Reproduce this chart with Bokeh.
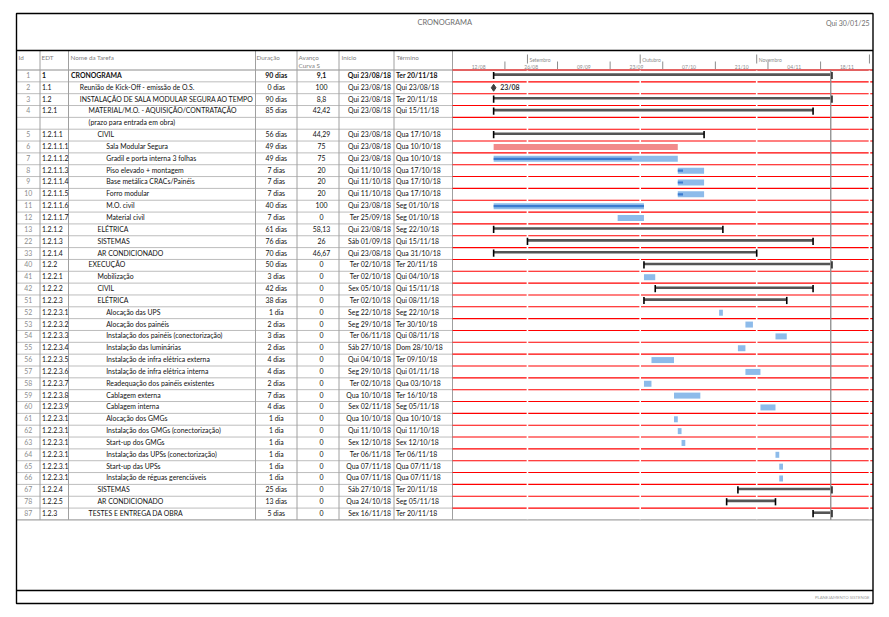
import pandas as pd
from bokeh.plotting import figure
from bokeh.models import ColumnDataSource, Range1d
from bokeh.core.properties import value, field
from bokeh.embed import file_html
from bokeh.resources import INLINE

# ---------------- data ----------------
task_ids = [1, 2, 3, 4, 5, 6, 7, 8, 9, 10, 11, 12, 13, 22, 33, 40, 41, 42, 51,
            52, 53, 54, 55, 56, 57, 58, 59, 60, 61, 62, 63, 64, 65, 66, 67, 78, 87]
edt = ["1", "1.1", "1.2", "1.2.1", "1.2.1.1", "1.2.1.1.1", "1.2.1.1.2", "1.2.1.1.3",
       "1.2.1.1.4", "1.2.1.1.5", "1.2.1.1.6", "1.2.1.1.7", "1.2.1.2", "1.2.1.3", "1.2.1.4",
       "1.2.2", "1.2.2.1", "1.2.2.2", "1.2.2.3", "1.2.2.3.1", "1.2.2.3.2", "1.2.2.3.3",
       "1.2.2.3.4", "1.2.2.3.5", "1.2.2.3.6", "1.2.2.3.7", "1.2.2.3.8", "1.2.2.3.9",
       "1.2.2.3.1", "1.2.2.3.1", "1.2.2.3.1", "1.2.2.3.1", "1.2.2.3.1", "1.2.2.3.1",
       "1.2.2.4", "1.2.2.5", "1.2.3"]
names = ["CRONOGRAMA",
         "Reunião de Kick-Off - emissão de O.S.",
         "INSTALAÇÃO DE SALA MODULAR SEGURA AO TEMPO",
         "MATERIAL/M.O. - AQUISIÇÃO/CONTRATAÇÃO\n(prazo para entrada em obra)",
         "CIVIL",
         "Sala Modular Segura",
         "Gradil e porta interna 3 folhas",
         "Piso elevado + montagem",
         "Base metálica CRACs/Painéis",
         "Forro modular",
         "M.O. civil",
         "Material civil",
         "ELÉTRICA",
         "SISTEMAS",
         "AR CONDICIONADO",
         "EXECUÇÃO",
         "Mobilização",
         "CIVIL",
         "ELÉTRICA",
         "Alocação das UPS",
         "Alocação dos painéis",
         "Instalação dos painéis (conectorização)",
         "Instalação das luminárias",
         "Instalação de infra elétrica externa",
         "Instalação de infra elétrica interna",
         "Readequação dos painéis existentes",
         "Cablagem externa",
         "Cablagem interna",
         "Alocação dos GMGs",
         "Instalação dos GMGs (conectorização)",
         "Start-up dos GMGs",
         "Instalação das UPSs (conectorização)",
         "Start-up das UPSs",
         "Instalação de réguas gerenciáveis",
         "SISTEMAS",
         "AR CONDICIONADO",
         "TESTES E ENTREGA DA OBRA"]
duracao = ["90 dias", "0 dias", "90 dias", "85 dias", "56 dias", "49 dias", "49 dias",
           "7 dias", "7 dias", "7 dias", "40 dias", "7 dias", "61 dias", "76 dias",
           "70 dias", "50 dias", "3 dias", "42 dias", "38 dias", "1 dia", "2 dias",
           "3 dias", "2 dias", "4 dias", "4 dias", "2 dias", "7 dias", "4 dias",
           "1 dia", "1 dia", "1 dia", "1 dia", "1 dia", "1 dia", "25 dias", "13 dias",
           "5 dias"]
avanco = ["9,1", "100", "8,8", "42,42", "44,29", "75", "75", "20", "20", "20", "100",
          "0", "58,13", "26", "46,67", "0", "0", "0", "0", "0", "0", "0", "0", "0",
          "0", "0", "0", "0", "0", "0", "0", "0", "0", "0", "0", "0", "0"]
inicio = ["Qui 23/08/18", "Qui 23/08/18", "Qui 23/08/18", "Qui 23/08/18", "Qui 23/08/18",
          "Qui 23/08/18", "Qui 23/08/18", "Qui 11/10/18", "Qui 11/10/18", "Qui 11/10/18",
          "Qui 23/08/18", "Ter 25/09/18", "Qui 23/08/18", "Sáb 01/09/18", "Qui 23/08/18",
          "Ter 02/10/18", "Ter 02/10/18", "Sex 05/10/18", "Ter 02/10/18", "Seg 22/10/18",
          "Seg 29/10/18", "Ter 06/11/18", "Sáb 27/10/18", "Qui 04/10/18", "Seg 29/10/18",
          "Ter 02/10/18", "Qua 10/10/18", "Sex 02/11/18", "Qua 10/10/18", "Qui 11/10/18",
          "Sex 12/10/18", "Ter 06/11/18", "Qua 07/11/18", "Qua 07/11/18", "Sáb 27/10/18",
          "Qua 24/10/18", "Sex 16/11/18"]
termino = ["Ter 20/11/18", "Qui 23/08/18", "Ter 20/11/18", "Qui 15/11/18", "Qua 17/10/18",
           "Qua 10/10/18", "Qua 10/10/18", "Qua 17/10/18", "Qua 17/10/18", "Qua 17/10/18",
           "Seg 01/10/18", "Seg 01/10/18", "Seg 22/10/18", "Qui 15/11/18", "Qua 31/10/18",
           "Ter 20/11/18", "Qui 04/10/18", "Qui 15/11/18", "Qui 08/11/18", "Seg 22/10/18",
           "Ter 30/10/18", "Qui 08/11/18", "Dom 28/10/18", "Ter 09/10/18", "Qui 01/11/18",
           "Qua 03/10/18", "Ter 16/10/18", "Seg 05/11/18", "Qua 10/10/18", "Qui 11/10/18",
           "Sex 12/10/18", "Ter 06/11/18", "Qua 07/11/18", "Qua 07/11/18", "Ter 20/11/18",
           "Seg 05/11/18", "Ter 20/11/18"]
kinds = (["summary", "milestone", "summary", "summary", "summary", "critical", "task",
          "task", "task", "task", "task", "task", "summary", "summary", "summary",
          "summary", "task", "summary", "summary"] + ["task"] * 15 +
         ["summary", "summary", "summary"])

col_headers = ["Id", "EDT", "Nome da Tarefa", "Duração", "Avanço\nCurva S", "Início", "Término"]
month_labels = ["Setembro", "Outubro", "Novembro"]
title = "CRONOGRAMA"
print_date = "Qui 30/01/25"
footer = "PLANEJAMENTO SISTENGE"
timescale_start = "2018-08-12"
timescale_end = "2018-11-18"
status_line = "2018-11-20 17:00"

# ---------------- layout constants (pixels) ----------------
W, H = 880, 608
FL, FR, FT, FB = 16, 872.5, 13, 603      # outer frame
HDR_Y = 50                                # header divider
FOOT_Y = 590
ROW_TOP = 69.5
RH = 11.84
X0, PXD = 451.8, 3.758                    # gantt: x of timescale start, px per day
COLS = [FL, 39.5, 68, 255, 296.5, 338.5, 393.5, 452]
FONT = value("Lato")

REF = pd.Timestamp(timescale_start)
t_start = (REF + pd.Timedelta(days=(0 - X0) / PXD)).to_pydatetime()
t_end = (REF + pd.Timedelta(days=(W - X0) / PXD)).to_pydatetime()

p = figure(width=W, height=H, output_backend="svg", toolbar_location=None,
           x_range=Range1d(0, W), y_range=Range1d(H, 0),
           x_axis_location=None, y_axis_location=None, min_border=0)
p.outline_line_color = None
p.background_fill_color = "white"
p.border_fill_color = "white"
p.xgrid.visible = False
p.ygrid.visible = False
p.extra_x_ranges = {"t": Range1d(t_start, t_end)}
p.extra_y_ranges = {"r": Range1d((H - ROW_TOP) / RH, (0 - ROW_TOP) / RH)}

# ---------------- derived table rows ----------------
starts = pd.to_datetime([s.split()[1] for s in inicio], format="%d/%m/%y")
finishes = pd.to_datetime([s.split()[1] for s in termino], format="%d/%m/%y") + pd.Timedelta(days=1)
pct = [float(a.replace(",", ".")) for a in avanco]

units = []
u = 0
for n in names:
    units.append(u)
    u += len(n.split("\n"))
total_units = u
row_c = [v + 0.5 for v in units]
styles = ["bold" if i == 0 else "normal" for i in range(len(names))]

# ---------------- table grid ----------------
p.segment(x0=[FL] * (total_units - 1), x1=[COLS[-1]] * (total_units - 1),
          y0=list(range(1, total_units)), y1=list(range(1, total_units)),
          y_range_name="r", line_color="#bdbdbd", line_width=1)
p.segment(x0=[FL, FL], x1=[FR, FR], y0=[0, total_units], y1=[0, total_units],
          y_range_name="r", line_color="#8c8c8c", line_width=1)
bottom_px = ROW_TOP + total_units * RH
p.segment(x0=COLS[1:], x1=COLS[1:], y0=[HDR_Y] * (len(COLS) - 1),
          y1=[bottom_px] * (len(COLS) - 1), line_color="#a0a0a0", line_width=1)

# red gantt row lines
p.segment(x0=[COLS[-1]] * total_units, x1=[FR] * total_units,
          y0=list(range(0, total_units)), y1=list(range(0, total_units)),
          y_range_name="r", line_color="#ff0000", line_width=1.1)
# white month separators
months = pd.date_range("2018-09-01", "2018-12-01", freq="MS")
p.segment(x0=months, x1=months, y0=[0.05] * len(months), y1=[total_units - 0.05] * len(months),
          x_range_name="t", y_range_name="r", line_color="white", line_width=1.6)

# ---------------- header texts ----------------
p.text(x=[(FL + FR) / 2], y=[22], text=[title], text_font=FONT, text_font_size="7.5px",
       text_color="#6f6f6f", text_align="center", text_baseline="middle")
p.text(x=[869], y=[22], text=[print_date], text_font=FONT, text_font_size="7px",
       text_color="#6f6f6f", text_align="right", text_baseline="middle")
hx = [18, 41, 70, 256, 298, 341, 396]
for x, h in zip(hx, col_headers):
    for k, line in enumerate(h.split("\n")):
        p.text(x=[x], y=[57 + 8 * k], text=[line], text_font=FONT, text_font_size="6.3px",
               text_color="#808080", text_align="left", text_baseline="middle")

# timescale
wk_ticks = pd.date_range("2018-08-26", timescale_end, freq="14D")
p.segment(x0=wk_ticks, x1=wk_ticks, y0=[61] * len(wk_ticks), y1=[68.5] * len(wk_ticks),
          x_range_name="t", line_color="#8c8c8c", line_width=1)
p.segment(x0=months, x1=months, y0=[54] * len(months), y1=[63] * len(months),
          x_range_name="t", line_color="#8c8c8c", line_width=1)
wk_starts = pd.date_range(timescale_start, timescale_end, freq="14D")
p.text(x=wk_starts + pd.Timedelta(days=7), y=[66] * len(wk_starts),
       text=[d.strftime("%d/%m") for d in wk_starts], x_range_name="t",
       text_font=FONT, text_font_size="5px", text_color="#8c8c8c",
       text_align="center", text_baseline="middle")
p.text(x=months[:len(month_labels)], y=[59] * len(month_labels), text=month_labels,
       x_range_name="t", x_offset=2, text_font=FONT, text_font_size="5px",
       text_color="#8c8c8c", text_align="left", text_baseline="middle")

# ---------------- table texts ----------------
TXT = "#111111"
common = dict(y_range_name="r", text_font=FONT, text_font_size="6.9px",
              text_baseline="middle", y_offset=-1)
src = ColumnDataSource(dict(
    y=row_c, ids=[str(i) for i in task_ids], edt=edt, dur=duracao, av=avanco,
    ini=inicio, ter=termino, style=styles,
    xid=[(COLS[0] + COLS[1]) / 2] * len(names), xedt=[41.5] * len(names),
    xdur=[(COLS[3] + COLS[4]) / 2] * len(names), xav=[321] * len(names),
    xini=[390.5] * len(names), xter=[395.5] * len(names)))
p.text(x="xid", y="y", text="ids", source=src, text_align="center", text_color="#8c8c8c", **common)
p.text(x="xedt", y="y", text="edt", source=src, text_align="left", text_color=TXT,
       text_font_style=field("style"), **common)
p.text(x="xdur", y="y", text="dur", source=src, text_align="center", text_color=TXT,
       text_font_style=field("style"), **common)
p.text(x="xav", y="y", text="av", source=src, text_align="center", text_color=TXT,
       text_font_style=field("style"), **common)
p.text(x="xini", y="y", text="ini", source=src, text_align="right", text_color=TXT,
       text_font_style=field("style"), **common)
p.text(x="xter", y="y", text="ter", source=src, text_align="left", text_color=TXT,
       text_font_style=field("style"), **common)

nx, ny, nt, ns = [], [], [], []
for i, n in enumerate(names):
    lvl = edt[i].count(".") + 1
    for k, line in enumerate(n.split("\n")):
        nx.append(70.5 + 8.8 * (lvl - 1))
        ny.append(row_c[i] + k)
        nt.append(line)
        ns.append(styles[i])
p.text(x="x", y="y", text="t", source=ColumnDataSource(dict(x=nx, y=ny, t=nt, s=ns)),
       text_align="left", text_color=TXT, text_font_style=field("s"), **common)

# ---------------- gantt bars ----------------
def sel(kind):
    return [i for i, k in enumerate(kinds) if k == kind]

si = sel("summary")
s_src = ColumnDataSource(dict(y=[row_c[i] - 1.3 / RH for i in si],
                              l=[starts[i] for i in si], r=[finishes[i] for i in si],
                              c0=[row_c[i] - 4 / RH for i in si],
                              c1=[row_c[i] + 3.2 / RH for i in si]))
p.hbar(y="y", left="l", right="r", height=2.6 / RH, source=s_src, fill_color="#555555",
       line_color=None, x_range_name="t", y_range_name="r")
p.segment(x0="l", x1="l", y0="c0", y1="c1", source=s_src, line_color="black",
          line_width=1.6, x_range_name="t", y_range_name="r")
p.segment(x0="r", x1="r", y0="c0", y1="c1", source=s_src, line_color="black",
          line_width=1.6, x_range_name="t", y_range_name="r")

ti = sel("task")
p.hbar(y=[row_c[i] for i in ti], left=[starts[i] for i in ti], right=[finishes[i] for i in ti],
       height=6 / RH, fill_color="#8dbbea", line_color=None, x_range_name="t", y_range_name="r")
ci = sel("critical")
p.hbar(y=[row_c[i] for i in ci], left=[starts[i] for i in ci], right=[finishes[i] for i in ci],
       height=6 / RH, fill_color="#f28a8a", line_color=None, x_range_name="t", y_range_name="r")
pi = [i for i in ti if pct[i] > 0]
p.hbar(y=[row_c[i] for i in pi], left=[starts[i] for i in pi],
       right=[starts[i] + (finishes[i] - starts[i]) * pct[i] / 100 for i in pi],
       height=2.2 / RH, fill_color="#3a7bd0", line_color=None, x_range_name="t", y_range_name="r")

mi = sel("milestone")
p.scatter(x=[starts[i] for i in mi], y=[row_c[i] for i in mi], marker="diamond", size=7,
          fill_color="#404040", line_color="#404040", x_range_name="t", y_range_name="r")
p.text(x=[starts[i] for i in mi], y=[row_c[i] for i in mi],
       text=[starts[i].strftime("%d/%m") for i in mi], x_offset=6.5, y_offset=-1,
       x_range_name="t", y_range_name="r", text_font=FONT, text_font_size="7px",
       text_font_style="bold", text_color="#333333", text_baseline="middle")

# project finish line
sl = pd.Timestamp(status_line)
p.segment(x0=[sl], x1=[sl], y0=[0], y1=[total_units], x_range_name="t", y_range_name="r",
          line_color="#8c8c8c", line_width=1.3)

# ---------------- frame ----------------
p.segment(x0=[FL, FL], x1=[FR, FR], y0=[HDR_Y, FOOT_Y], y1=[HDR_Y, FOOT_Y],
          line_color="black", line_width=1.3)
p.quad(left=[FL], right=[FR], top=[FT], bottom=[FB], fill_color=None,
       line_color="black", line_width=1.4)
p.text(x=[869], y=[597], text=[footer], text_font=FONT, text_font_size="4.3px",
       text_color="#9a9a9a", text_align="right", text_baseline="middle")

open("out.html", "w").write(file_html(p, INLINE))
